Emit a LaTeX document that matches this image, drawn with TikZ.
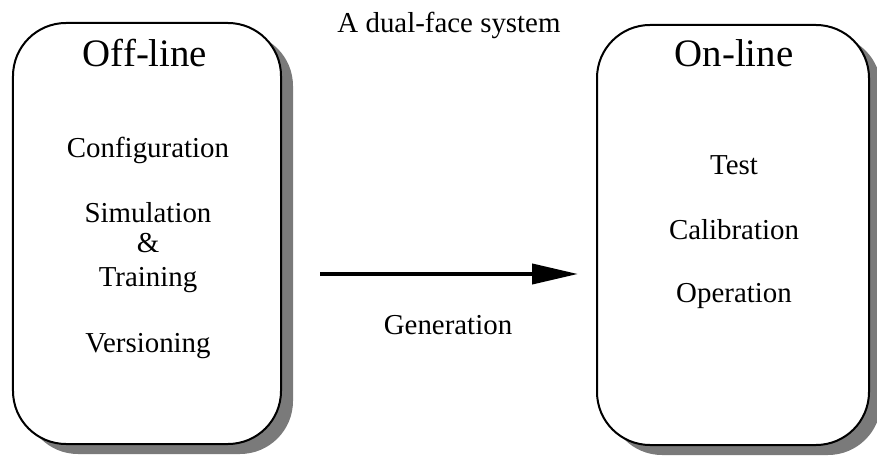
\documentclass[tikz,border=0pt]{standalone}
\usepackage{fontspec}
\setmainfont{Liberation Serif}
\usetikzlibrary{shadows,arrows.meta}

\begin{document}
\begin{tikzpicture}[x=1bp,y=-1bp,
  panel/.style={draw=black, line width=2bp, rounded corners=53bp, fill=white,
    inner sep=0pt,
    drop shadow={shadow xshift=12bp, shadow yshift=-10bp, fill=black!52, opacity=1}},
  title/.style={anchor=base, font=\fontsize{39}{39}\selectfont},
  item/.style={anchor=base, font=\fontsize{29}{29}\selectfont},
  flow/.style={line width=4bp, -{Triangle[length=46bp,width=20bp]}}]
\useasboundingbox (0,0) rectangle (877,457);

% the two faces
\node[panel, minimum width=268bp, minimum height=421bp] (off) at (147,233.5) {};
\node[panel, minimum width=272bp, minimum height=420bp] (on) at (733,235) {};

% caption
\node[item] (cap) at (449,33) {A dual-face system};

% off-line face
\node[title] (offt) at (145,67) {Off-line};
\node[item] (conf) at (148,158) {Configuration};
\node[item] (sim) at (148,223) {Simulation};
\node[item] (amp) at (148,253) {\&};
\node[item] (train) at (148,287) {Training};
\node[item] (vers) at (148,353) {Versioning};

% on-line face
\node[title] (ont) at (734,67) {On-line};
\node[item] (test) at (734,175) {Test};
\node[item] (cal) at (734,240) {Calibration};
\node[item] (oper) at (734,303) {Operation};

% generation step
\coordinate (gs) at (320,274);
\coordinate (ge) at (578,274);
\draw[flow] (gs) -- (ge);
\node[item] (gen) at (448,335) {Generation};
\end{tikzpicture}
\end{document}
